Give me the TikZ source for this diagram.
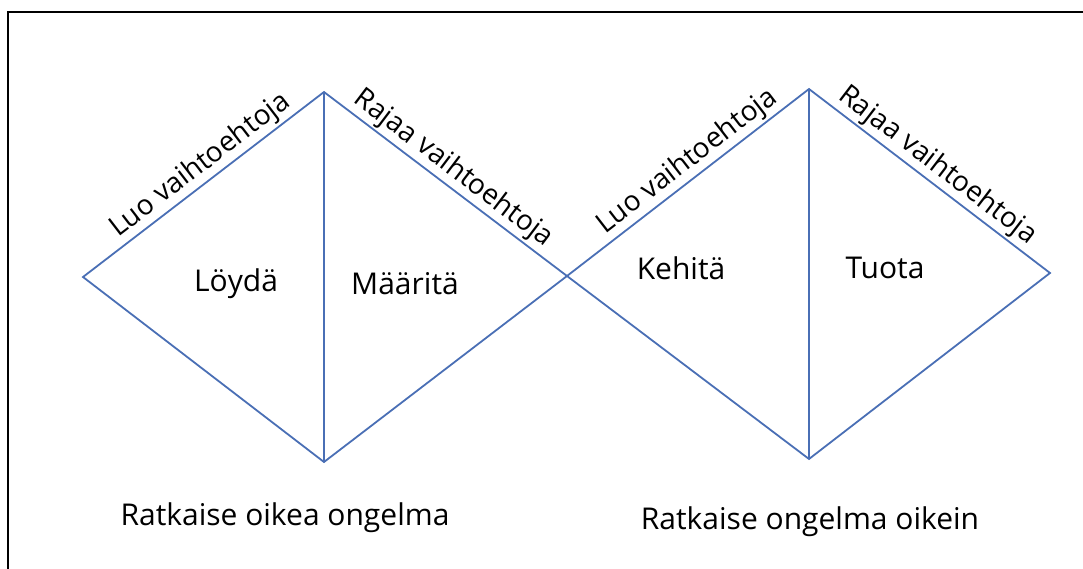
\documentclass[tikz,border=0pt]{standalone}
\usepackage{fontspec}
\setmainfont{Open Sans}
\definecolor{edgeblue}{HTML}{4A6FB5}
\tikzset{
  edge/.style={draw=edgeblue, line width=1.8pt, line join=miter},
  phase/.style={font=\fontsize{30}{34}\selectfont, inner sep=0pt, anchor=center},
  slopelabel/.style={font=\fontsize{28}{32}\selectfont, sloped, above, inner sep=2pt},
  caption/.style={font=\fontsize{30}{34}\selectfont, inner sep=0pt, anchor=center},
  frame/.style={draw=black, line width=2pt}
}
\begin{document}
\begin{tikzpicture}[x=1pt, y=-1pt]
  \useasboundingbox (0,0) rectangle (1083,569);
  % frame along the top and left edges
  \coordinate (fTL) at (8,12);
  \coordinate (fTR) at (1083,12);
  \coordinate (fBL) at (8,569);
  \draw[frame] (fTR) -- (fTL) -- (fBL);

  % first diamond
  \coordinate (aL) at (83,277);
  \coordinate (aT) at (324,92);
  \coordinate (aB) at (324,462);
  \coordinate (mid) at (567,276);
  % second diamond
  \coordinate (bT) at (809,89);
  \coordinate (bB) at (809,459);
  \coordinate (bR) at (1050,273);

  \draw[edge] (aL) -- node[slopelabel, pos=0.53] (lab1) {Luo vaihtoehtoja} (aT)
              -- node[slopelabel, pos=0.49] (lab2) {Rajaa vaihtoehtoja} (mid)
              -- (aB) -- cycle;
  \draw[edge] (aT) -- (aB);

  \draw[edge] (mid) -- node[slopelabel, pos=0.54] (lab3) {Luo vaihtoehtoja} (bT)
              -- node[slopelabel, pos=0.49] (lab4) {Rajaa vaihtoehtoja} (bR)
              -- (bB) -- cycle;
  \draw[edge] (bT) -- (bB);

  % phase names
  \node[phase] (find) at (236,284) {Löydä};
  \node[phase] (define) at (405,284) {Määritä};
  \node[phase] (develop) at (681,268) {Kehitä};
  \node[phase] (deliver) at (885,268) {Tuota};

  % captions under the diamonds
  \node[caption] (cap1) at (285,518) {Ratkaise oikea ongelma};
  \node[caption] (cap2) at (810,522) {Ratkaise ongelma oikein};
\end{tikzpicture}
\end{document}
